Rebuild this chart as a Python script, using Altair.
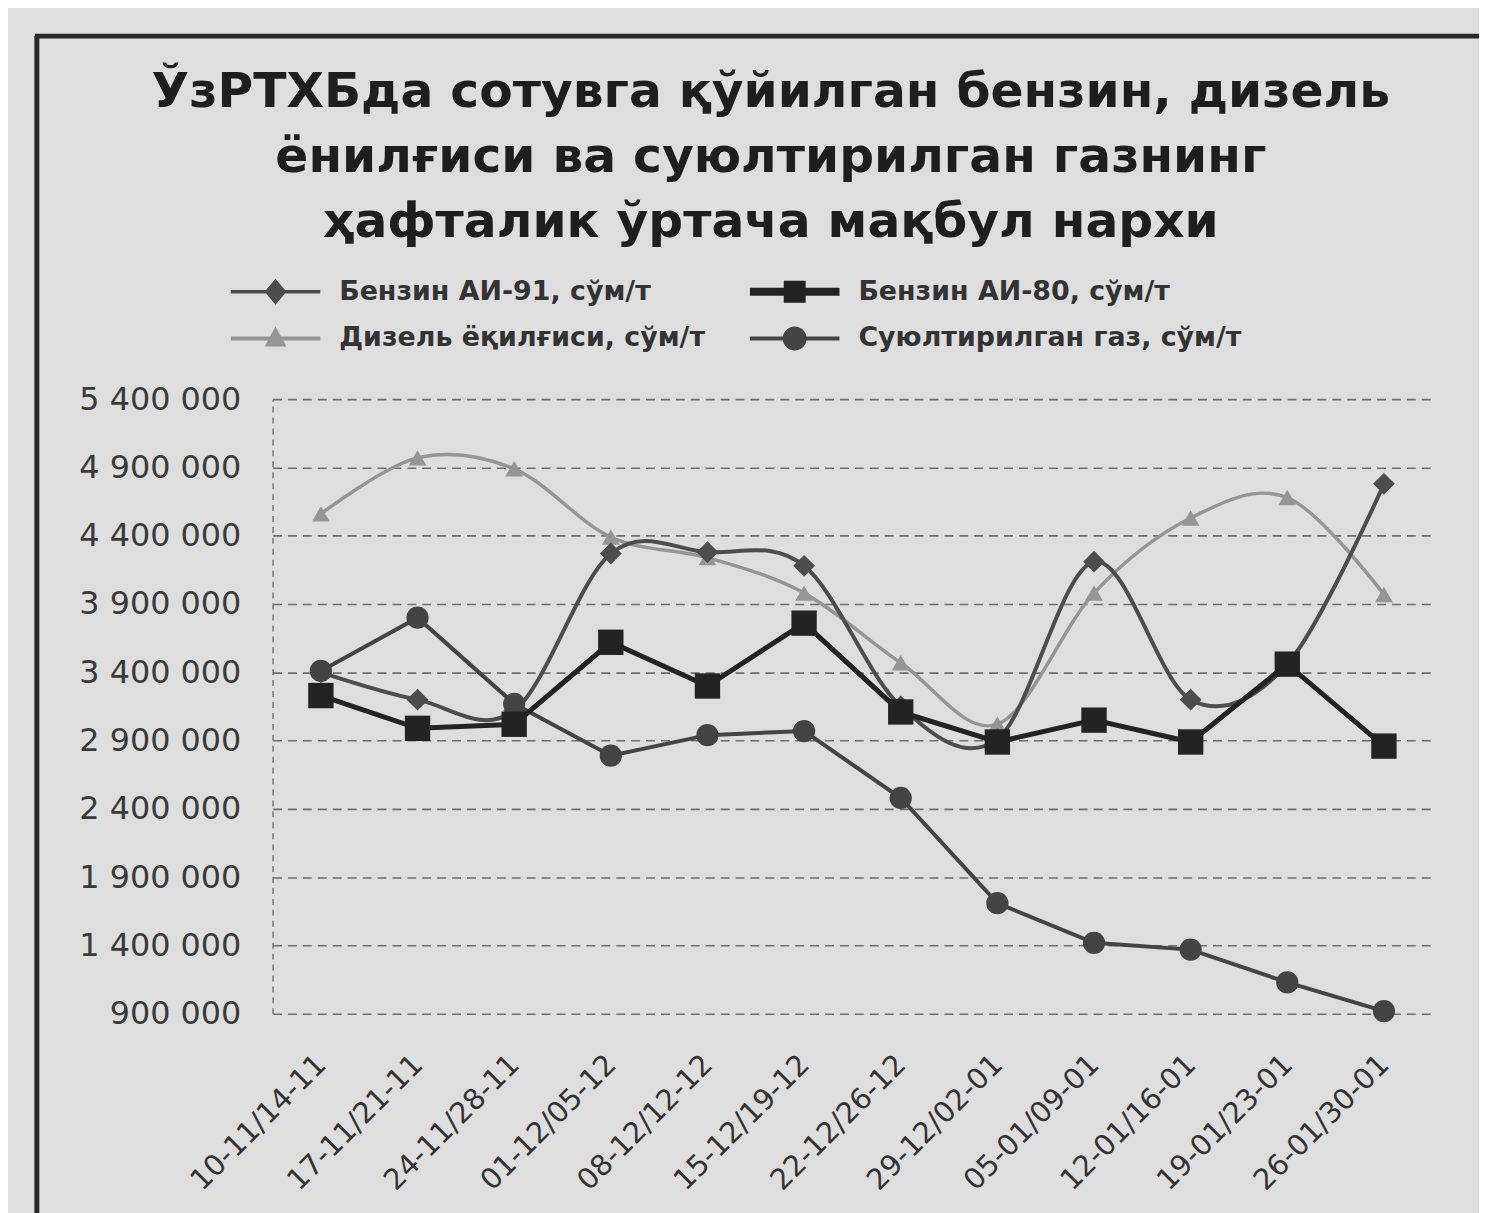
import altair as alt
import pandas as pd

categories = ["10-11/14-11", "17-11/21-11", "24-11/28-11", "01-12/05-12",
              "08-12/12-12", "15-12/19-12", "22-12/26-12", "29-12/02-01",
              "05-01/09-01", "12-01/16-01", "19-01/23-01", "26-01/30-01"]
series_names = ["Бензин АИ-91, сўм/т", "Бензин АИ-80, сўм/т",
                "Дизель ёқилғиси, сўм/т", "Суюлтирилган газ, сўм/т"]
ai91 = [3400000, 3200000, 3120000, 4270000, 4280000, 4180000,
        3150000, 2910000, 4210000, 3200000, 3460000, 4780000]
ai80 = [3230000, 2990000, 3020000, 3620000, 3300000, 3760000,
        3110000, 2890000, 3050000, 2890000, 3460000, 2860000]
diesel = [4560000, 4970000, 4890000, 4390000, 4240000, 3980000,
          3470000, 3020000, 3980000, 4530000, 4680000, 3970000]
gas = [3410000, 3800000, 3170000, 2790000, 2940000, 2970000,
       2480000, 1710000, 1420000, 1370000, 1130000, 920000]
y_ticks = [900000, 1400000, 1900000, 2400000, 2900000, 3400000,
           3900000, 4400000, 4900000, 5400000]
title_lines = ["ЎзРТХБда сотувга қўйилган бензин, дизель",
               "ёнилғиси ва суюлтирилган газнинг",
               "ҳафталик ўртача мақбул нархи"]

rows = []
for s, vals in zip(series_names, [ai91, ai80, diesel, gas]):
    for i, (c, v) in enumerate(zip(categories, vals)):
        rows.append({"series": s, "week": c, "idx": i, "value": v})
df = pd.DataFrame(rows)

colors = ["#4d4d4d", "#232323", "#959595", "#444444"]
legend_paths = [
    "M-2.25,-0.09H2.25V0.09H-2.25Z M0,-0.65L0.55,0L0,0.65L-0.55,0Z",
    "M-2.25,-0.2H2.25V0.2H-2.25Z M-0.55,-0.55H0.55V0.55H-0.55Z",
    "M-2.25,-0.1H2.25V0.1H-2.25Z M0,-0.6L0.55,0.4L-0.55,0.4Z",
    "M-2.25,-0.1H2.25V0.1H-2.25Z M-0.6,0A0.6,0.6 0 1,1 0.6,0A0.6,0.6 0 1,1 -0.6,0Z",
]

FONT = "DejaVu Sans"

x_enc = alt.X("week:N", sort=categories, scale=alt.Scale(domain=categories),
              axis=alt.Axis(title=None, labelAngle=-45, labelAlign="right",
                            labelBaseline="middle", labelFont=FONT,
                            labelFontSize=29, labelColor="#333333",
                            labelPadding=46, ticks=False, domain=False,
                            grid=False))
y_enc = alt.Y("value:Q",
              scale=alt.Scale(domain=[900000, 5400000], nice=False, zero=False),
              axis=alt.Axis(title=None, values=y_ticks,
                            labelExpr="replace(replace(format(datum.value, ','), ',', ' '), ',', ' ')",
                            labelFont=FONT, labelFontSize=32,
                            labelColor="#3a3a3a", labelPadding=32,
                            ticks=False, domain=True, domainColor="#777777",
                            domainDash=[6, 5], domainWidth=1.5,
                            grid=True, gridColor="#6e6e6e", gridDash=[9, 6],
                            gridWidth=1.6))
color_scale = alt.Scale(domain=series_names, range=colors)

base = alt.Chart(df)


def line_layer(name, width, interp):
    return base.transform_filter(alt.datum.series == name).mark_line(
        strokeWidth=width, interpolate=interp
    ).encode(x=x_enc, y=y_enc, order=alt.Order("idx:Q"),
             color=alt.Color("series:N", scale=color_scale, legend=None))


def point_layer(name, shape, size):
    return base.transform_filter(alt.datum.series == name).mark_point(
        filled=True, opacity=1, shape=shape, size=size
    ).encode(x=x_enc, y=y_enc,
             color=alt.Color("series:N", scale=color_scale, legend=None))


leg = alt.Legend(title=None, orient="none", legendX=-17, legendY=-128,
                 direction="horizontal", columns=2, columnPadding=45,
                 rowPadding=14, symbolSize=1600, symbolStrokeWidth=0,
                 symbolOpacity=1, labelFont=FONT, labelFontWeight="bold",
                 labelFontSize=27, labelColor="#333333", labelLimit=0,
                 labelOffset=44, padding=0)

legend_layer = base.transform_filter(alt.datum.idx == 0).transform_calculate(
    key="datum.series"
).mark_point(filled=True, opacity=0).encode(
    x=x_enc, y=y_enc,
    shape=alt.Shape("key:N", scale=alt.Scale(domain=series_names, range=legend_paths), legend=leg),
    color=alt.Color("key:N", scale=alt.Scale(domain=series_names, range=colors), legend=leg),
)

frame_data = alt.Data(values=[{"k": 0}])
left_border = alt.Chart(frame_data).mark_rule(color="#2a2a2a", strokeWidth=5).encode(
    x=alt.value(-237), y=alt.value(-365), y2=alt.value(830))
top_border = alt.Chart(frame_data).mark_rule(color="#2a2a2a", strokeWidth=5).encode(
    x=alt.value(-239), x2=alt.value(1230), y=alt.value(-365))

chart = alt.layer(
    left_border, top_border,
    line_layer(series_names[2], 3.5, "cardinal"),
    point_layer(series_names[2], "triangle-up", 320),
    line_layer(series_names[0], 4, "cardinal"),
    point_layer(series_names[0], "diamond", 480),
    line_layer(series_names[3], 4, "linear"),
    point_layer(series_names[3], "circle", 500),
    line_layer(series_names[1], 5, "linear"),
    point_layer(series_names[1], "square", 650),
    legend_layer,
).resolve_scale(color="independent", shape="independent").properties(
    width=1166, height=618,
    autosize="none",
    padding={"left": 266, "top": 390, "right": 47, "bottom": 197},
    title=alt.TitleParams(text=title_lines, font=FONT, fontWeight="bold",
                          fontSize=49, lineHeight=65, anchor="middle",
                          dx=-82, offset=-214, color="#1e1e1e"),
).configure(background="#dedede").configure_view(stroke=None)

chart.save("out.html", embed_options={"renderer": "svg", "actions": False})
